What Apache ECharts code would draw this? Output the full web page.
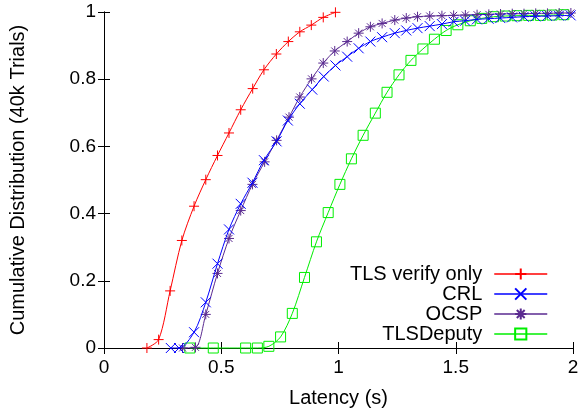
<!DOCTYPE html>
<html>
<head>
<meta charset="utf-8">
<script src="https://cdn.jsdelivr.net/npm/echarts@6/dist/echarts.min.js"></script>
<style>
html,body{margin:0;padding:0;background:#fff;}
#chart{width:582px;height:413px;}
</style>
</head>
<body>
<div id="chart"></div>
<script>
const seriesNames = ['TLS verify only', 'CRL', 'OCSP', 'TLSDeputy'];
const xTicks = [0, 0.5, 1, 1.5, 2];
const yTicks = [0, 0.2, 0.4, 0.6, 0.8, 1];

const tlsX = [0.183, 0.233, 0.282, 0.332, 0.384, 0.434, 0.484, 0.533, 0.583, 0.634, 0.682, 0.735, 0.786, 0.835, 0.884, 0.935, 0.987];
const tlsY = [0, 0.025, 0.170, 0.320, 0.422, 0.501, 0.573, 0.640, 0.709, 0.772, 0.828, 0.875, 0.912, 0.941, 0.961, 0.984, 0.999];

const crlX = [0.285, 0.320, 0.384, 0.434, 0.484, 0.533, 0.583, 0.633, 0.682, 0.736, 0.784, 0.835, 0.888, 0.937, 0.987, 1.037, 1.086, 1.136, 1.186, 1.240, 1.289, 1.337, 1.389, 1.441, 1.491, 1.540, 1.590, 1.640, 1.690, 1.740, 1.790, 1.840, 1.890, 1.940, 1.990];
const crlY = [0, 0, 0.047, 0.136, 0.251, 0.353, 0.429, 0.492, 0.559, 0.615, 0.677, 0.727, 0.769, 0.808, 0.841, 0.867, 0.892, 0.912, 0.925, 0.937, 0.945, 0.952, 0.958, 0.964, 0.971, 0.974, 0.978, 0.980, 0.982, 0.984, 0.986, 0.987, 0.988, 0.989, 0.990];

const ocspX = [0.335, 0.390, 0.434, 0.484, 0.533, 0.583, 0.633, 0.685, 0.736, 0.789, 0.835, 0.885, 0.935, 0.984, 1.037, 1.086, 1.136, 1.186, 1.240, 1.289, 1.337, 1.389, 1.441, 1.491, 1.541, 1.591, 1.641, 1.691, 1.741, 1.791, 1.841, 1.891, 1.941, 1.991];
const ocspY = [0, 0.002, 0.100, 0.222, 0.326, 0.409, 0.487, 0.554, 0.618, 0.687, 0.747, 0.801, 0.848, 0.884, 0.912, 0.937, 0.956, 0.966, 0.976, 0.982, 0.986, 0.988, 0.989, 0.990, 0.991, 0.992, 0.993, 0.994, 0.995, 0.995, 0.996, 0.996, 0.997, 0.997];

const deputyX = [0.366, 0.466, 0.604, 0.654, 0.703, 0.753, 0.803, 0.855, 0.906, 0.956, 1.006, 1.055, 1.105, 1.157, 1.207, 1.258, 1.309, 1.360, 1.409, 1.459, 1.509, 1.562, 1.611, 1.661, 1.711, 1.761, 1.811, 1.861, 1.911, 1.961];
const deputyY = [0, 0, 0, 0, 0.005, 0.033, 0.103, 0.210, 0.316, 0.403, 0.487, 0.563, 0.633, 0.699, 0.761, 0.813, 0.856, 0.890, 0.919, 0.945, 0.962, 0.974, 0.981, 0.986, 0.988, 0.989, 0.990, 0.990, 0.991, 0.992];

const colors = ['#ff0000', '#0000ff', '#5a2a90', '#00ee00'];
const symbols = [
  'path://M5,0L5,10M0,5L10,5',
  'path://M0,0L10,10M10,0L0,10',
  'path://M5,0L5,10M0,5L10,5M1.5,1.5L8.5,8.5M8.5,1.5L1.5,8.5',
  'path://M0,0L10,0L10,10L0,10Z'
];

function pairs(xs, ys) { return xs.map((x, i) => [x, ys[i]]); }
const allData = [pairs(tlsX, tlsY), pairs(crlX, crlY), pairs(ocspX, ocspY), pairs(deputyX, deputyY)];

const FONT = "'Liberation Sans', Arial, sans-serif";
const chart = echarts.init(document.getElementById('chart'), null, {renderer: 'canvas'});

const axisCommon = {
  axisLine: {show: true, lineStyle: {color: '#000', width: 1}},
  axisTick: {show: true, inside: true, length: 6, lineStyle: {color: '#000'}},
  splitLine: {show: false}
};

chart.setOption({
  animation: false,
  backgroundColor: '#fff',
  grid: {left: 103, right: 9, top: 12, bottom: 64},
  legend: {
    orient: 'vertical',
    right: 29,
    top: 259,
    align: 'right',
    itemWidth: 53,
    itemHeight: 14,
    itemGap: 0,
    lineStyle: {width: 1.5},
    textStyle: {fontFamily: FONT, fontSize: 20, color: '#000', padding: [0, 7, 0, 0]},
    data: seriesNames
  },
  xAxis: [
    Object.assign({
      type: 'value', min: xTicks[0], max: xTicks[xTicks.length - 1], interval: 0.5,
      name: 'Latency (s)', nameLocation: 'middle', nameGap: 40,
      nameTextStyle: {fontFamily: FONT, fontSize: 20, color: '#000'},
      axisLabel: {fontFamily: FONT, fontSize: 19, color: '#000', margin: 10}
    }, axisCommon),
    Object.assign({
      type: 'value', position: 'top', min: 0, max: 2, interval: 0.5,
      axisLabel: {show: false}
    }, axisCommon)
  ],
  yAxis: [
    Object.assign({
      type: 'value', min: yTicks[0], max: yTicks[yTicks.length - 1], interval: 0.2,
      name: 'Cumulative Distribution (40k Trials)', nameLocation: 'middle', nameGap: 76,
      nameTextStyle: {fontFamily: FONT, fontSize: 20, color: '#000'},
      axisLabel: {fontFamily: FONT, fontSize: 19, color: '#000', margin: 8}
    }, axisCommon),
    Object.assign({
      type: 'value', position: 'right', min: 0, max: 1, interval: 0.2,
      axisLabel: {show: false}
    }, axisCommon)
  ],
  series: seriesNames.map((name, i) => ({
    name: name,
    type: 'line',
    xAxisIndex: 0,
    yAxisIndex: 0,
    data: allData[i],
    smooth: 0.3,
    clip: false,
    symbol: symbols[i],
    symbolSize: 10,
    showAllSymbol: true,
    lineStyle: {color: colors[i], width: 1},
    itemStyle: {color: 'rgba(0,0,0,0)', borderColor: colors[i], borderWidth: 1},
    emphasis: {disabled: true},
    z: 10 - i
  }))
});
</script>
</body>
</html>
